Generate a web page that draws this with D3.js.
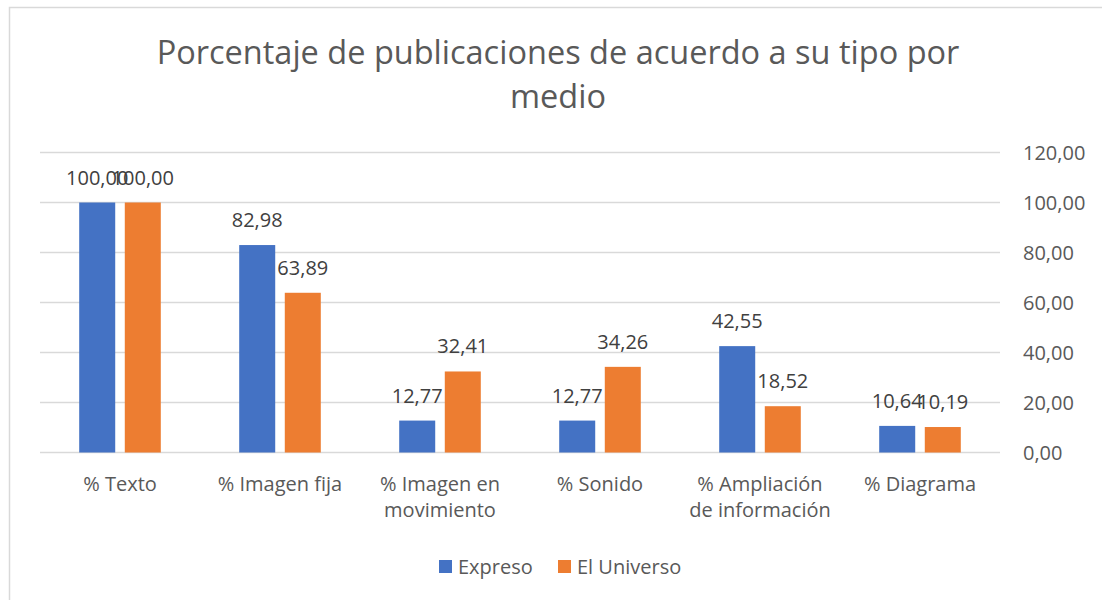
<html>
<head>
<meta charset="utf-8">
<title>Porcentaje de publicaciones</title>
<script src="https://d3js.org/d3.v7.min.js"></script>
<style>
body { margin:0; background:#fff; }
text { font-family: "Open Sans", "Noto Sans", sans-serif; }
</style>
</head>
<body>
<div id="chart"></div>
<script>

// data
var categories = ["% Texto", "% Imagen fija", "% Imagen en movimiento", "% Sonido", "% Ampliación de información", "% Diagrama"];
var categoryLines = [["% Texto"], ["% Imagen fija"], ["% Imagen en", "movimiento"], ["% Sonido"], ["% Ampliación", "de información"], ["% Diagrama"]];
var seriesNames = ["Expreso", "El Universo"];
var expreso = [100.00, 82.98, 12.77, 12.77, 42.55, 10.64];
var universo = [100.00, 63.89, 32.41, 34.26, 18.52, 10.19];
var yTicks = [0, 20, 40, 60, 80, 100, 120];
var colors = ["#4472C4", "#ED7D31"];

var width = 1102, height = 600;

var svg = d3.select("#chart").append("svg")
	.attr("width", width).attr("height", height);

// chart area border
svg.append("rect")
	.attr("x", 9.5).attr("y", 7.5)
	.attr("width", 1120).attr("height", 620)
	.attr("fill", "none").attr("stroke", "#d9d9d9").attr("stroke-width", 1.5);

var locale = d3.formatLocale({decimal: ",", thousands: ".", grouping: [3], currency: ["", ""]});
var fmt = locale.format(".2f");

var x0 = d3.scaleBand().domain(categories).range([40, 1000]).padding(0);
var x1 = d3.scaleBand().domain(seriesNames).range([0, x0.bandwidth()])
	.paddingInner(0.21).paddingOuter(0.86);
var y = d3.scaleLinear().domain([0, 120]).range([452.5, 152.5]);

// gridlines
svg.append("g").selectAll("line").data(yTicks).enter().append("line")
	.attr("x1", 40).attr("x2", 1000)
	.attr("y1", function(d) { return y(d); })
	.attr("y2", function(d) { return y(d); })
	.attr("stroke", "#d9d9d9").attr("stroke-width", 1.3);

// right axis
var axis = svg.append("g")
	.attr("transform", "translate(1023,0)")
	.call(d3.axisRight(y).tickValues(yTicks).tickFormat(fmt).tickSize(0).tickPadding(0));
axis.select(".domain").remove();
axis.selectAll("text")
	.attr("font-size", 20).attr("fill", "#595959")
	.attr("font-family", "'Open Sans', sans-serif")
	.attr("dy", "0.35em");

// bars
var rows = categories.map(function(c, i) {
	return {cat: c, values: [{s: seriesNames[0], v: expreso[i]}, {s: seriesNames[1], v: universo[i]}]};
});

var groups = svg.append("g").selectAll("g").data(rows).enter().append("g")
	.attr("transform", function(d) { return "translate(" + x0(d.cat) + ",0)"; });

groups.selectAll("rect").data(function(d) { return d.values; }).enter().append("rect")
	.attr("x", function(d) { return x1(d.s); })
	.attr("y", function(d) { return y(d.v); })
	.attr("width", x1.bandwidth())
	.attr("height", function(d) { return y(0) - y(d.v); })
	.attr("fill", function(d, i) { return colors[i]; });

groups.selectAll("text.lbl").data(function(d) { return d.values; }).enter().append("text")
	.attr("class", "lbl")
	.attr("x", function(d) { return x1(d.s) + x1.bandwidth() / 2; })
	.attr("y", function(d) { return y(d.v) - 18; })
	.attr("text-anchor", "middle")
	.attr("font-size", 20).attr("fill", "#404040")
	.text(function(d) { return fmt(d.v); });

// category labels
var catLabels = svg.append("g").selectAll("text").data(categories).enter().append("text")
	.attr("x", function(d) { return x0(d) + x0.bandwidth() / 2; })
	.attr("y", 491)
	.attr("text-anchor", "middle")
	.attr("font-size", 20).attr("fill", "#595959");
catLabels.each(function(d, i) {
	var t = d3.select(this);
	categoryLines[i].forEach(function(line, j) {
		t.append("tspan").attr("x", x0(d) + x0.bandwidth() / 2).attr("dy", j ? 26 : 0).text(line);
	});
});

// title
var title = svg.append("text")
	.attr("x", 558).attr("y", 64)
	.attr("text-anchor", "middle")
	.attr("font-size", 32.5).attr("fill", "#595959");
title.append("tspan").attr("x", 558).text("Porcentaje de publicaciones de acuerdo a su tipo por");
title.append("tspan").attr("x", 558).attr("dy", 44).text("medio");

// legend
var legend = svg.append("g");
var legendX = [439, 558];
seriesNames.forEach(function(s, i) {
	legend.append("rect")
		.attr("x", legendX[i]).attr("y", 560)
		.attr("width", 13).attr("height", 13)
		.attr("fill", colors[i]);
	legend.append("text")
		.attr("x", legendX[i] + 19).attr("y", 574)
		.attr("font-size", 20).attr("fill", "#595959")
		.text(s);
});

</script>
</body>
</html>
